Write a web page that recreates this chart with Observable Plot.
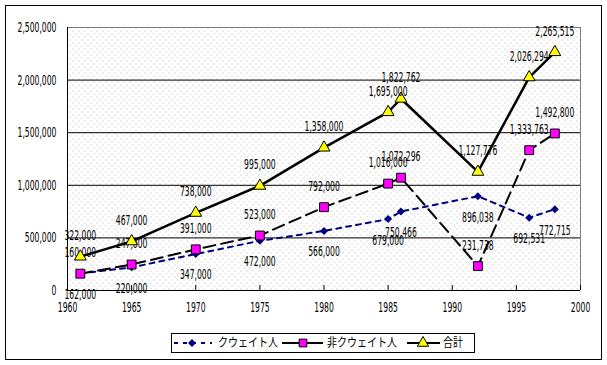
<!DOCTYPE html>
<html><head><meta charset="utf-8">
<script src="https://cdn.jsdelivr.net/npm/d3@7"></script>
<script src="https://cdn.jsdelivr.net/npm/@observablehq/plot@0.6"></script>
<style>
body{margin:0;background:#fff;}
#frame{position:absolute;left:5px;top:5px;width:597px;height:355px;border:1px solid #000;box-sizing:border-box;background:#fff;}
#chart{position:absolute;left:0;top:0;}
#legend{position:absolute;left:165px;top:327px;width:304px;height:20px;border:1px solid #000;box-sizing:border-box;background:#fff;}
</style></head><body>
<div id="frame"><div id="chart"></div><div id="legend"></div></div>
<script>
// ---- data ----
const years = [1961, 1965, 1970, 1975, 1980, 1985, 1986, 1992, 1996, 1998];
const kuwaiti = [162000, 220000, 347000, 472000, 566000, 679000, 750466, 896038, 692531, 772715];
const nonKuwaiti = [160000, 247000, 391000, 523000, 792000, 1016000, 1072296, 231738, 1333763, 1492800];
const total = [322000, 467000, 738000, 995000, 1358000, 1695000, 1822762, 1127776, 2026294, 2265515];
const seriesNames = ["クウェイト人", "非クウェイト人", "合計"];
const xTicks = [1960, 1965, 1970, 1975, 1980, 1985, 1990, 1995, 2000];
const yTicks = [0, 500000, 1000000, 1500000, 2000000, 2500000];

const rows = years.map((y, i) => ({year: y, kuw: kuwaiti[i], non: nonKuwaiti[i], tot: total[i]}));
const fmt = d3.format(",");
const numFont = '"DejaVu Sans Condensed","Liberation Sans",sans-serif';
const FS = 14;

const plot = Plot.plot({
  width: 595, height: 321,
  marginLeft: 61, marginRight: 21, marginTop: 21, marginBottom: 37,
  style: {fontFamily: numFont, fontSize: FS + "px", color: "#000", background: "transparent", overflow: "visible"},
  x: {domain: [1960, 2000]},
  y: {domain: [0, 2500000]},
  marks: [
    Plot.frame({fill: "url(#dots)", stroke: null}),
    Plot.ruleY(yTicks.slice(1, -1), {stroke: "#000", strokeWidth: 1}),
    Plot.ruleY([yTicks[yTicks.length - 1]], {stroke: "#808080"}),
    Plot.ruleX([xTicks[xTicks.length - 1]], {stroke: "#808080"}),
    Plot.ruleX([xTicks[0]], {stroke: "#000"}),
    Plot.ruleY([0], {stroke: "#000"}),
    Plot.axisY({ticks: yTicks, tickSize: 0, tickPadding: 11, tickFormat: fmt, label: null, fontSize: FS}),
    Plot.axisX({ticks: xTicks, tickSize: -5, tickFormat: () => "", label: null}),
    Plot.axisX({ticks: xTicks, tickSize: 0, tickPadding: 12, tickFormat: d => String(d), label: null, fontSize: FS}),
    // Kuwaiti
    Plot.line(rows, {x: "year", y: "kuw", stroke: "#000080", strokeWidth: 2, strokeDasharray: "5,5"}),
    Plot.dot(rows, {x: "year", y: "kuw", symbol: "diamond2", r: 3.6, fill: "#000080", stroke: null}),
    // Non-Kuwaiti
    Plot.line(rows, {x: "year", y: "non", stroke: "#000", strokeWidth: 2, strokeDasharray: "12,6"}),
    Plot.dot(rows, {x: "year", y: "non", symbol: "square", r: 5, fill: "#ff00ff", stroke: "#000", strokeWidth: 1}),
    Plot.text(rows, {x: "year", y: "non", text: d => fmt(d.non), dy: -21, fill: "#000", fontSize: FS}),
    Plot.text(rows, {x: "year", y: "kuw", text: d => fmt(d.kuw), dy: 21, fill: "#000", fontSize: FS}),
    // Total
    Plot.line(rows, {x: "year", y: "tot", stroke: "#000", strokeWidth: 2.5}),
    Plot.dot(rows, {x: "year", y: "tot", symbol: "triangle", r: 4.4, fill: "#ffff00", stroke: "#000", strokeWidth: 1}),
    Plot.text(rows, {x: "year", y: "tot", text: d => fmt(d.tot), dy: -21, fill: "#000", fontSize: FS})
  ]
});

// dotted background pattern
const svg = d3.select(plot);
const defs = svg.insert("defs", ":first-child");
const pat = defs.append("pattern").attr("id", "dots").attr("patternUnits", "userSpaceOnUse")
  .attr("width", 6).attr("height", 6);
pat.append("rect").attr("width", 6).attr("height", 6).attr("fill", "#fff");
pat.append("rect").attr("x", 0).attr("y", 0).attr("width", 1).attr("height", 1).attr("fill", "#b8b8b8");
pat.append("rect").attr("x", 3).attr("y", 3).attr("width", 1).attr("height", 1).attr("fill", "#b8b8b8");
document.getElementById("chart").appendChild(plot);

// condense text (reference uses a narrow, tall font)
function condense(root, k) {
  root.querySelectorAll("text").forEach(t => {
    if (!t.textContent) return;
    const w = t.getComputedTextLength();
    if (w > 0) {
      t.setAttribute("textLength", (w * k).toFixed(2));
      t.setAttribute("lengthAdjust", "spacingAndGlyphs");
    }
  });
}
let refW = 0;
plot.querySelectorAll("text").forEach(t => { if (t.textContent === "2,500,000") refW = t.getComputedTextLength(); });
condense(plot, refW > 0 ? 39 / refW : 0.7);

// legend
const lg = d3.select("#legend").append("svg").attr("width", 302).attr("height", 18)
  .style("display", "block");
const items = [
  {name: seriesNames[0], x0: 2, x1: 40, mx: 20, stroke: "#000080", dash: "4,5", sym: d3.symbolDiamond2, size: 40, fill: "#000080", mstroke: "none", tx: 46},
  {name: seriesNames[1], x0: 110, x1: 151, mx: 131, stroke: "#000", dash: null, sym: d3.symbolSquare, size: 60, fill: "#ff00ff", mstroke: "#000", tx: 155},
  {name: seriesNames[2], x0: 235, x1: 268, mx: 251, stroke: "#000", dash: null, sym: d3.symbolTriangle, size: 55, fill: "#ffff00", mstroke: "#000", tx: 271}
];
const cy = 9;
const legendTexts = [];
for (const it of items) {
  lg.append("line").attr("x1", it.x0).attr("x2", it.x1).attr("y1", cy).attr("y2", cy)
    .attr("stroke", it.stroke).attr("stroke-width", 2).attr("stroke-dasharray", it.dash);
  lg.append("path").attr("d", d3.symbol(it.sym, it.size)()).attr("transform", `translate(${it.mx},${cy})`)
    .attr("fill", it.fill).attr("stroke", it.mstroke);
  legendTexts.push(lg.append("text").attr("x", it.tx).attr("y", cy).attr("dy", "0.36em")
    .attr("font-family", '"Noto Sans CJK JP",sans-serif').attr("font-size", 12)
    .text(it.name).node());
}
const lw = legendTexts[0].getComputedTextLength();
condense(lg.node(), lw > 0 ? 60 / lw : 0.85);
</script>
</body></html>
